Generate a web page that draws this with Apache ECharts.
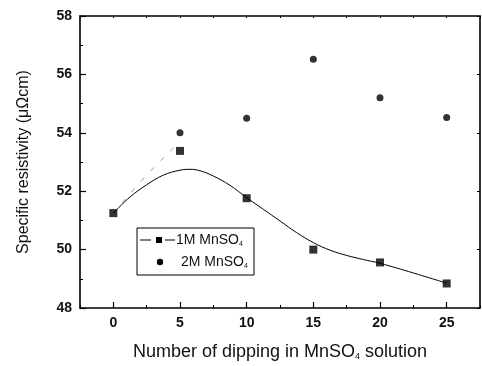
<!DOCTYPE html>
<html>
<head>
<meta charset="utf-8">
<script src="https://cdn.jsdelivr.net/npm/echarts@6/dist/echarts.min.js"></script>
<style>html,body{margin:0;padding:0;background:#fff}#c{width:482px;height:366px}</style>
</head>
<body>
<div id="c"></div>
<script>
var xTicks = [0, 5, 10, 15, 20, 25];
var yTicks = [48, 50, 52, 54, 56, 58];
var dips = [0, 5, 10, 15, 20, 25];
var res1M = [51.25, 53.38, 51.76, 50.0, 49.56, 48.84];
var dips2M = [5, 10, 15, 20, 25];
var res2M = [54.0, 54.5, 56.52, 55.2, 54.52];
var fitX = [0, 1.25, 2.5, 3.75, 5, 5.75, 6.5, 7.5, 8.75, 10, 11.25, 12.5, 13.75, 15, 16.25, 17.5, 18.75, 20, 22.5, 25];
var fitY = [51.25, 51.8, 52.22, 52.55, 52.72, 52.75, 52.7, 52.52, 52.2, 51.78, 51.38, 50.98, 50.58, 50.24, 49.98, 49.8, 49.66, 49.53, 49.2, 48.85];
var dashX = [0, 2.5, 4.7];
var dashY = [51.25, 52.55, 53.56];

var FONT = '"Liberation Sans", Arial, sans-serif';
function pairs(a, b) { return a.map(function (v, i) { return [v, b[i]]; }); }

var chart = echarts.init(document.getElementById('c'), null, {renderer: 'canvas'});
var axisLine = {show: true, onZero: false, lineStyle: {color: '#000', width: 1.6}};
chart.setOption({
  animation: false,
  backgroundColor: '#fff',
  grid: {left: 80, right: 2, top: 16, bottom: 54, containLabel: false},
  xAxis: [
    {
      type: 'value', min: -2.5, max: 27.5, interval: 2.5, position: 'bottom',
      axisLine: axisLine,
      axisTick: {show: true, inside: true, length: 3, lineStyle: {color: '#000', width: 1}},
      axisLabel: {show: true, customValues: xTicks, margin: 8, color: '#111', fontSize: 14, fontFamily: FONT, fontWeight: 'bold'},
      splitLine: {show: false},
      name: 'Number of dipping in MnSO{sub|4} solution',
      nameLocation: 'middle', nameGap: 35,
      nameTextStyle: {fontSize: 18, color: '#111', fontFamily: FONT,
        rich: {sub: {fontSize: 9, color: '#111', fontFamily: FONT, padding: [9, 0, 0, 0]}}}
    },
    {
      type: 'value', min: -2.5, max: 27.5, position: 'bottom',
      axisLine: {show: false, onZero: false},
      axisTick: {show: true, inside: true, length: 6, customValues: xTicks, lineStyle: {color: '#000', width: 1.2}},
      axisLabel: {show: false},
      splitLine: {show: false}
    },
    {
      type: 'value', min: -2.5, max: 27.5, interval: 2.5, position: 'top',
      axisLine: axisLine,
      axisTick: {show: true, inside: true, length: 2, lineStyle: {color: '#000', width: 1}},
      axisLabel: {show: false},
      splitLine: {show: false}
    }
  ],
  yAxis: [
    {
      type: 'value', min: 48, max: 58, interval: 2, position: 'left',
      axisLine: axisLine,
      axisTick: {show: true, inside: true, length: 6, lineStyle: {color: '#000', width: 1.2}},
      minorTick: {show: true, splitNumber: 2, length: 3, lineStyle: {color: '#000', width: 1}},
      axisLabel: {show: true, customValues: yTicks, margin: 8, color: '#111', fontSize: 14, fontFamily: FONT, fontWeight: 'bold'},
      splitLine: {show: false},
      name: 'Specific resistivity (μΩcm)',
      nameLocation: 'middle', nameGap: 48, nameRotate: 90,
      nameTextStyle: {fontSize: 16, color: '#111', fontFamily: FONT}
    },
    {
      type: 'value', min: 48, max: 58, interval: 2, position: 'right',
      axisLine: axisLine,
      axisTick: {show: true, inside: true, length: 3, lineStyle: {color: '#000', width: 1}},
      axisLabel: {show: false},
      splitLine: {show: false}
    }
  ],
  series: [
    {
      name: 'dash', type: 'line', data: pairs(dashX, dashY), smooth: true, symbol: 'none',
      lineStyle: {color: '#999', width: 1, type: [5, 9]}, silent: true, z: 1
    },
    {
      name: 'fit', type: 'line', data: pairs(fitX, fitY), smooth: 0.4, symbol: 'none',
      lineStyle: {color: '#000', width: 1}, silent: true, z: 2
    },
    {
      name: '1M MnSO4', type: 'scatter', data: pairs(dips, res1M), symbol: 'rect', symbolSize: 8,
      itemStyle: {color: '#000'}, z: 3
    },
    {
      name: '2M MnSO4', type: 'scatter', data: pairs(dips2M, res2M), symbol: 'circle', symbolSize: 7,
      itemStyle: {color: '#000'}, z: 3
    }
  ],
  graphic: [
    {type: 'rect', shape: {x: 137, y: 228, width: 117, height: 47}, style: {fill: '#fff', stroke: '#000', lineWidth: 1}, z: 10},
    {type: 'line', shape: {x1: 140, y1: 240, x2: 151, y2: 240}, style: {stroke: '#000', lineWidth: 1}, z: 11},
    {type: 'rect', shape: {x: 156, y: 237, width: 6, height: 6}, style: {fill: '#000'}, z: 11},
    {type: 'line', shape: {x1: 165, y1: 240, x2: 175, y2: 240}, style: {stroke: '#000', lineWidth: 1}, z: 11},
    {type: 'text', x: 176, y: 240, style: {text: '1M MnSO{sub|4}', font: '14px ' + FONT, fill: '#111', verticalAlign: 'middle',
      rich: {sub: {fontSize: 7, fill: '#111', padding: [8, 0, 0, 0]}}}, z: 11},
    {type: 'circle', shape: {cx: 160, cy: 262, r: 3.2}, style: {fill: '#000'}, z: 11},
    {type: 'text', x: 181, y: 262, style: {text: '2M MnSO{sub|4}', font: '14px ' + FONT, fill: '#111', verticalAlign: 'middle',
      rich: {sub: {fontSize: 7, fill: '#111', padding: [8, 0, 0, 0]}}}, z: 11}
  ]
});
</script>
</body>
</html>
